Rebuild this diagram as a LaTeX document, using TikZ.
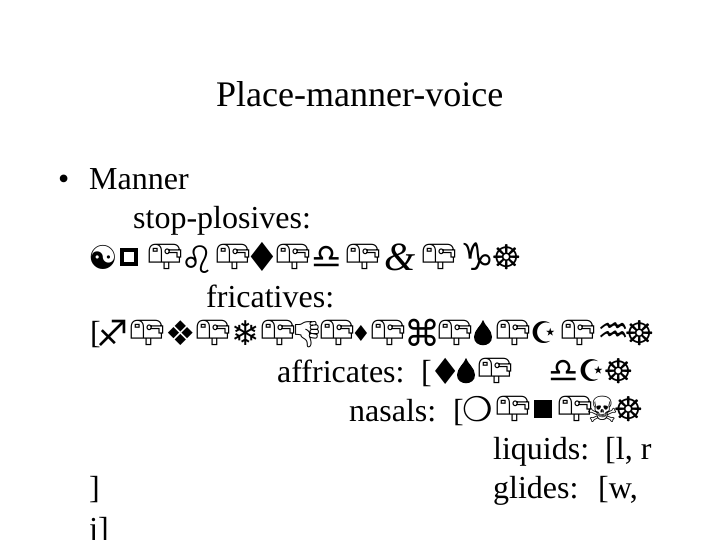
\documentclass[tikz,border=0pt]{standalone}
\usepackage{fontspec}
\setmainfont{Liberation Serif}
\newfontfamily\symf{DejaVu Sans}
\newfontfamily\emof{Noto Emoji}
\tikzset{
 txt/.style={anchor=base west,inner sep=0pt,font=\fontsize{32}{32}\selectfont},
 ttl/.style={anchor=base west,inner sep=0pt,font=\fontsize{36}{36}\selectfont},
 gl/.style={anchor=center,inner sep=0pt,font=\fontsize{#1}{#1}\selectfont\symf},
 gl/.default=34,
 mb/.style={anchor=center,inner sep=0pt,font=\fontsize{31}{31}\selectfont\emof},
 amp/.style={anchor=center,inner sep=0pt,font=\fontsize{40}{40}\selectfont\itshape},
 hollow/.style={draw=black,line width=4.5pt,inner sep=0pt,minimum size=14pt},
 solid/.style={fill=black,inner sep=0pt,minimum size=18pt},
 drop/.style={fill=black,draw=none}
}
\newcommand{\mbx}[2]{\node[mb] (mb#1) at (#1pt,-#2pt) {📪};}
\newcommand{\dropg}[2]{\fill[drop,shift={(#1pt,-#2pt)}] (0,13) .. controls (2,7) and (9,3) .. (9,-4) .. controls (9,-15) and (-9,-15) .. (-9,-4) .. controls (-9,3) and (-2,7) .. (0,13) -- cycle;}
\begin{document}
\begin{tikzpicture}[x=1pt,y=1pt]
\useasboundingbox (0,-540) rectangle (720,0);
\fill[white] (0,-540) rectangle (720,0);
\begin{scope}
\clip (0,-540) rectangle (720,0);
\node[ttl] (title) at (216,-107) {Place-manner-voice};
\node[txt] (bullet) at (58,-190) {•};
\node[txt] (manner) at (89,-190) {Manner};
\node[txt] (stop) at (133,-229) {stop-plosives:};
% line 1
\node[gl=33] (a1) at (103,-257) {☯};
\node[hollow] (a2) at (129,-257) {};
\foreach \x in {165,233,293,363,439} {\mbx{\x}{257}}
\node[gl=38] (a3) at (198,-260) {♌};
\node[gl=40] (a4) at (262,-257) {♦};
\node[gl=34] (a5) at (327,-257) {♎};
\node[amp] (a6) at (400,-257) {\&};
\node[gl=38] (a7) at (478,-257) {♑};
\node[gl] (a8) at (507,-257) {☸};
\node[txt] (fric) at (206,-307) {fricatives:};
% line 2
\node[txt] (br1) at (90,-343) {[};
\node[gl=36] (b1) at (113,-333) {♐};
\node[gl] (b2) at (181,-333) {❖};
\node[gl] (b3) at (246,-333) {❄};
\node[gl=26] (b4) at (307,-335) {\emof 👎};
\foreach \x in {147,213,278,337,388,455,513,578} {\mbx{\x}{333}}
\node[gl=22] (b5) at (361,-333) {♦};
\node[gl=36] (b6) at (422,-333) {⌘};
\dropg{483}{333}
\node[gl=30] (b8) at (544,-333) {☪};
\node[gl=36] (b9) at (614,-333) {♒};
\node[gl] (b10) at (640,-333) {☸};
\node[txt] (aff) at (277,-382) {affricates:};
\node[txt] (affb) at (421,-382) {[};
\node[gl=36] (c1) at (446,-371) {♦};
\dropg{466}{371}
\mbx{495}{371}
\node[gl=34] (c3) at (564,-371) {♎};
\node[gl=30] (c4) at (592,-371) {☪};
\node[gl] (c5) at (619,-371) {☸};
\node[txt] (nas) at (349,-421) {nasals:};
\node[txt] (nasb) at (453,-421) {[};
\node[gl=34] (d1) at (478,-409) {❍};
\mbx{513}{409}
\node[solid] (d2) at (543,-409) {};
\mbx{575}{409}
\node[gl=36] (d3) at (603,-409) {☠};
\node[gl] (d4) at (629,-409) {☸};
\node[txt] (liq) at (493,-459) {liquids:};
\node[txt] (liqb) at (605,-459) {[l, r};
\node[txt] (br2) at (89,-498) {]};
\node[txt] (gli) at (493,-498) {glides:};
\node[txt] (glib) at (598,-498) {[w,};
\node[txt] (j) at (89,-539) {j]};
\end{scope}
\end{tikzpicture}
\end{document}
